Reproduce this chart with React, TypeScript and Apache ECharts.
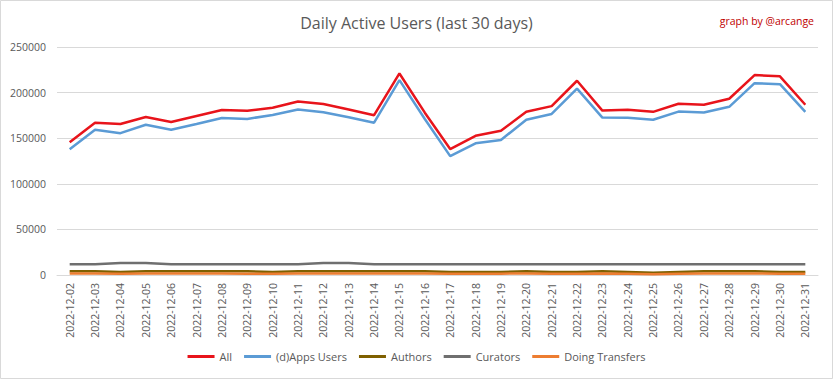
import React, { useEffect, useRef } from "react";
import * as echarts from "echarts";

const categories = [
  "2022-12-02","2022-12-03","2022-12-04","2022-12-05","2022-12-06","2022-12-07","2022-12-08","2022-12-09","2022-12-10","2022-12-11",
  "2022-12-12","2022-12-13","2022-12-14","2022-12-15","2022-12-16","2022-12-17","2022-12-18","2022-12-19","2022-12-20","2022-12-21",
  "2022-12-22","2022-12-23","2022-12-24","2022-12-25","2022-12-26","2022-12-27","2022-12-28","2022-12-29","2022-12-30","2022-12-31",
];

const allUsers = [
  145500, 167000, 165500, 173300, 167800, 174400, 181000, 180000, 183300, 190200,
  187400, 181400, 175200, 221000, 178000, 138100, 152600, 158100, 178900, 185200,
  213000, 180300, 181100, 178900, 187800, 186700, 193300, 219200, 217800, 186700,
];

const appsUsers = [
  137800, 159300, 155500, 164800, 159300, 165500, 172200, 171100, 175500, 181500,
  178500, 173000, 167000, 213700, 171000, 130300, 144400, 148100, 170300, 176600,
  204400, 172600, 172300, 170300, 179200, 178100, 184400, 210300, 209200, 178900,
];

const authors = [
  4100, 4000, 3300, 4000, 4000, 4000, 4100, 4000, 3300, 4000,
  4000, 4000, 4000, 4000, 4000, 3300, 3300, 3300, 4000, 3300,
  3300, 4000, 3300, 2600, 3300, 4000, 4100, 4000, 3300, 3300,
];

const curators = [
  11900, 11900, 13200, 13200, 11900, 11900, 11900, 11900, 11900, 11900,
  13200, 13200, 11900, 11900, 11900, 11900, 11900, 11900, 11900, 11900,
  11900, 11900, 11900, 11900, 11900, 11900, 11900, 11900, 11900, 11900,
];

const transfers = [
  1600, 1600, 1500, 1600, 1600, 1600, 1600, 1500, 1500, 1600,
  1600, 1600, 1600, 1600, 1600, 1500, 1500, 1500, 1600, 1500,
  1500, 1600, 1400, 700, 1300, 1600, 1600, 1600, 1500, 1500,
];

const yTicks = { min: 0, max: 250000, interval: 50000 };

export default function App() {
  const ref = useRef<HTMLDivElement>(null);
  useEffect(() => {
    if (!ref.current) return;
    const chart = echarts.init(ref.current, undefined, { renderer: "svg" });
    const font = "Open Sans";
    const mk = (name: string, data: number[], color: string, width: number) => ({
      name,
      type: "line",
      data,
      showSymbol: false,
      symbol: "none",
      lineStyle: { color, width },
      itemStyle: { color },
    });
    chart.setOption({
      animation: false,
      backgroundColor: "#ffffff",
      textStyle: { fontFamily: font },
      title: [
        {
          text: "Daily Active Users (last 30 days)",
          left: "center",
          top: 10,
          textStyle: { fontFamily: font, fontSize: 16, fontWeight: "normal", color: "#595959" },
        },
        {
          text: "graph by @arcange",
          right: 14,
          top: 10,
          textStyle: { fontFamily: font, fontSize: 10.5, fontWeight: "normal", color: "#C00000" },
        },
      ],
      legend: {
        bottom: 12,
        left: "center",
        icon: "rect",
        itemWidth: 27,
        itemHeight: 3,
        itemGap: 12,
        textStyle: { fontFamily: font, fontSize: 11, color: "#595959" },
        data: ["All", "(d)Apps Users", "Authors", "Curators", "Doing Transfers"],
      },
      grid: { left: 57, right: 15, top: 47, bottom: 104, containLabel: false },
      xAxis: {
        type: "category",
        data: categories,
        boundaryGap: true,
        axisLine: { lineStyle: { color: "#D9D9D9" } },
        axisTick: { show: false },
        axisLabel: { rotate: 90, color: "#595959", fontSize: 10.5, fontFamily: font, margin: 8, interval: 0 },
      },
      yAxis: {
        type: "value",
        min: yTicks.min,
        max: yTicks.max,
        interval: yTicks.interval,
        axisLine: { show: false },
        axisTick: { show: false },
        axisLabel: {
          color: "#595959",
          fontSize: 10.5,
          fontFamily: font,
          margin: 11,
          formatter: (v: number) => String(v),
        },
        splitLine: { lineStyle: { color: "#D9D9D9", width: 1 } },
      },
      series: [
        mk("All", allUsers, "#E8141B", 2.5),
        mk("(d)Apps Users", appsUsers, "#5B9BD5", 2.5),
        mk("Authors", authors, "#7F6000", 2.5),
        mk("Curators", curators, "#6F6F6F", 2.5),
        mk("Doing Transfers", transfers, "#ED7D31", 2.5),
      ],
      graphic: [
        {
          type: "rect",
          shape: { x: 0.5, y: 0.5, width: 832, height: 378 },
          style: { fill: "none", stroke: "#D9D9D9", lineWidth: 1 },
          silent: true,
        },
      ],
    });
    return () => chart.dispose();
  }, []);
  return (
    <div
      ref={ref}
      style={{ position: "fixed", left: 0, top: 0, width: 833, height: 379 }}
    />
  );
}
